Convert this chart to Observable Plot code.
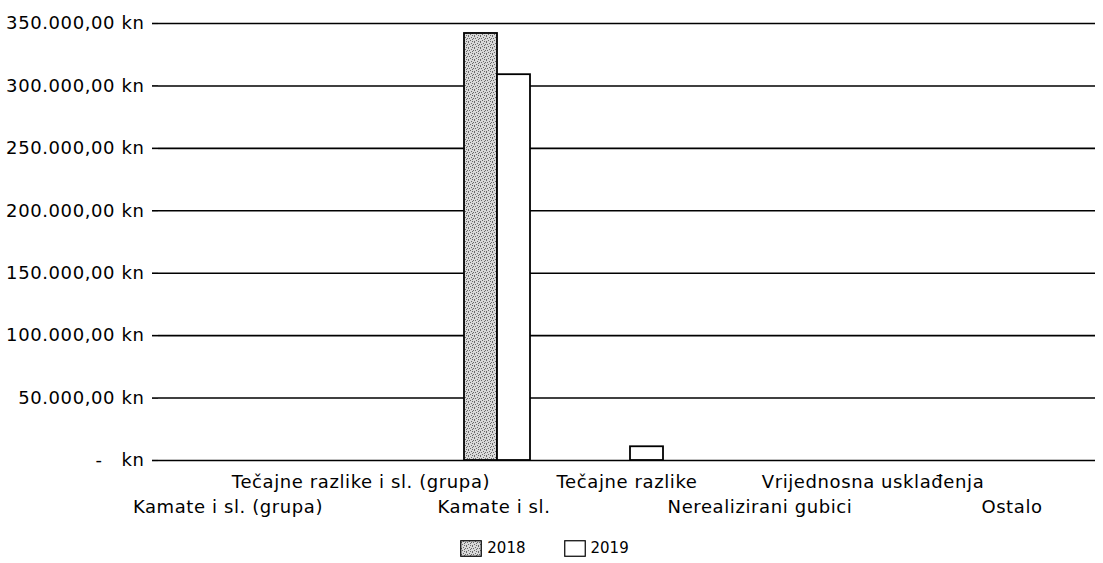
<!DOCTYPE html>
<html>
<head>
<meta charset="utf-8">
<script src="https://cdn.jsdelivr.net/npm/d3@7"></script>
<script src="https://cdn.jsdelivr.net/npm/@observablehq/plot@0.6"></script>
<style>
  body { margin: 0; background: #fff; font-family: "DejaVu Sans", sans-serif; }
  #legend { display: flex; justify-content: center; align-items: center; height: 42px; font-size: 15px; color: #000; padding-right: 14px; }
  #legend .item { display: flex; align-items: center; gap: 5px; margin: 0 19px; }
</style>
</head>
<body>
<div id="chart"></div>
<div id="legend"></div>
<script>
const categories = [
  "Kamate i sl. (grupa)",
  "Tečajne razlike i sl. (grupa)",
  "Kamate i sl.",
  "Tečajne razlike",
  "Nerealizirani gubici",
  "Vrijednosna usklađenja",
  "Ostalo"
];
const years = ["2018", "2019"];
const values2018 = [0, 0, 342000, 0, 0, 0, 0];
const values2019 = [0, 0, 309000, 11000, 0, 0, 0];
const yTicks = [0, 50000, 100000, 150000, 200000, 250000, 300000, 350000];

const rows2018 = categories.map((c, i) => ({category: c, year: "2018", value: values2018[i]})).filter(d => d.value > 0);
const rows2019 = categories.map((c, i) => ({category: c, year: "2019", value: values2019[i]})).filter(d => d.value > 0);

const hr = d3.formatLocale({decimal: ",", thousands: ".", grouping: [3], currency: ["", ""]});
const fmt = hr.format(",.2f");
const yFormat = d => d === 0 ? "-\u00a0\u00a0\u00a0kn" : fmt(d) + " kn";

const W = 1103, H = 527;
const plot = Plot.plot({
  width: W,
  height: H,
  marginLeft: 158,
  marginRight: 8,
  marginTop: 23,
  marginBottom: H - 460,
  style: {fontFamily: "DejaVu Sans, sans-serif", fontSize: "18px", letterSpacing: "0.6px", color: "#000", background: "#fff"},
  x: {type: "band", domain: categories, padding: 0, axis: null, label: null},
  y: {domain: [0, 350000], axis: null, label: null},
  marks: [
    Plot.ruleY(yTicks, {stroke: "#000", strokeWidth: 1.6}),
    Plot.axisY({ticks: yTicks, tickFormat: yFormat, tickSize: 6, tickPadding: 8, strokeWidth: 1.6, label: null}),
    Plot.barY(rows2018, {x: "category", y: "value", fill: "url(#dots2018)", stroke: "#000", strokeWidth: 1.8, insetLeft: 37, insetRight: 63}),
    Plot.barY(rows2019, {x: "category", y: "value", fill: "#fff", stroke: "#000", strokeWidth: 1.8, insetLeft: 70, insetRight: 30}),
    Plot.axisX({ticks: [categories[1], categories[3]], tickSize: 0, tickPadding: 15, label: null}),
    Plot.axisX({ticks: [categories[5]], tickSize: 0, tickPadding: 15, dx: -20, label: null}),
    Plot.axisX({ticks: [categories[0], categories[2], categories[4]], tickSize: 0, tickPadding: 40, label: null}),
    Plot.axisX({ticks: [categories[6]], tickSize: 0, tickPadding: 40, dx: -14, label: null})
  ]
});

function addPattern(svgSel, id) {
  let defs = svgSel.select("defs");
  if (defs.empty()) defs = svgSel.insert("defs", ":first-child");
  const p = defs.append("pattern").attr("id", id).attr("patternUnits", "userSpaceOnUse").attr("width", 6).attr("height", 6);
  p.append("rect").attr("width", 6).attr("height", 6).attr("fill", "#d9d9d9");
  const dots = [[0,0],[3,1],[1,2],[5,2],[2,4],[4,3],[0,5],[4,5]];
  dots.forEach(([x, y]) => p.append("rect").attr("x", x).attr("y", y).attr("width", 1).attr("height", 1).attr("fill", "#6a6a6a"));
}
addPattern(d3.select(plot), "dots2018");
document.getElementById("chart").appendChild(plot);

// legend
const legend = d3.select("#legend");
years.forEach(y => {
  const item = legend.append("div").attr("class", "item");
  const s = item.append("svg").attr("width", 22).attr("height", 17);
  if (y === "2018") addPattern(s, "dots2018legend");
  s.append("rect").attr("x", 0.75).attr("y", 0.75).attr("width", 20.5).attr("height", 15.5)
    .attr("fill", y === "2018" ? "url(#dots2018legend)" : "#fff").attr("stroke", "#000").attr("stroke-width", 1.2);
  item.append("span").text(y);
});
</script>
</body>
</html>
